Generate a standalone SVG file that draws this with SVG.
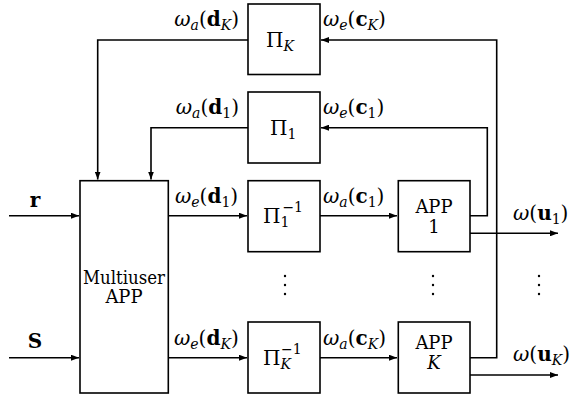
<svg xmlns="http://www.w3.org/2000/svg" width="574" height="399" viewBox="0 0 574 399">
<style>
.box{fill:#fff;stroke:#000;stroke-width:1.6}
.ar{fill:none;stroke:#000;stroke-width:1.6;marker-end:url(#ah)}
text{font-family:"DejaVu Serif",serif}
.i{font-style:italic}
.b{font-weight:bold}
.s{font-size:14px}
.c{text-anchor:middle}
.e{text-anchor:end}
.lb{font-size:20px}
.dot{fill:#000}
</style>
<defs>
<marker id="ah" viewBox="0 0 8 6" refX="8" refY="3" markerWidth="8" markerHeight="6" markerUnits="userSpaceOnUse" orient="auto">
<path d="M0,0 L8,3 L0,6 Z" fill="#000"/>
</marker>
</defs>
<rect width="574" height="399" fill="#fff"/>
<g id="connectors">
<path class="ar" d="M9,215.7 H79"/>
<path class="ar" d="M9,357.7 H79"/>
<path class="ar" d="M168,215.7 H247"/>
<path class="ar" d="M168,357.7 H247"/>
<path class="ar" d="M320,215.7 H397"/>
<path class="ar" d="M320,357.7 H397"/>
<path class="ar" d="M248,40 H97.7 V179.5"/>
<path class="ar" d="M248,127.7 H151 V179.5"/>
<path class="ar" d="M470,215.7 H487.3 V127.7 H321"/>
<path class="ar" d="M470,357.7 H496.7 V40 H321"/>
<path class="ar" d="M470,233.3 H558"/>
<path class="ar" d="M470,375 H558"/>
</g>
<g font-size="18" fill="#000">
<g id="multiuser">
<rect class="box" x="80" y="180.7" width="88.3" height="212.3"/>
<text class="c" x="124" y="284" textLength="82" lengthAdjust="spacingAndGlyphs">Multiuser</text>
<text class="c" x="124" y="303">APP</text>
</g>
<g id="piK">
<rect class="box" x="248" y="4" width="72" height="70.5"/>
<text x="266" y="47" font-size="20">Π<tspan class="i s" dy="4">K</tspan></text>
</g>
<g id="pi1">
<rect class="box" x="248" y="92" width="72" height="71"/>
<text x="270" y="135" font-size="20">Π<tspan class="s" dy="4">1</tspan></text>
</g>
<g id="pi1inv">
<rect class="box" x="248" y="180.7" width="72" height="71"/>
<text x="263" y="223" font-size="20">Π<tspan class="s" dy="4">1</tspan><tspan class="s" dx="-7" dy="-15">−1</tspan></text>
</g>
<g id="piKinv">
<rect class="box" x="248" y="322" width="72" height="71"/>
<text x="263" y="365" font-size="20">Π<tspan class="i s" dy="4">K</tspan><tspan class="s" dx="-10" dy="-15">−1</tspan></text>
</g>
<g id="app1">
<rect class="box" x="398.3" y="180.7" width="71.7" height="71"/>
<text class="c" x="434" y="213">APP</text>
<text class="c" x="434" y="233">1</text>
</g>
<g id="appK">
<rect class="box" x="398.3" y="322" width="71.7" height="71"/>
<text class="c" x="434" y="349">APP</text>
<text class="c i" x="434" y="369">K</text>
</g>
<g id="labels">
<text x="35" y="207" class="c b lb">r</text>
<text x="35" y="348" class="c b lb">S</text>
<text class="e lb" x="239" y="26"><tspan class="i">ω</tspan><tspan class="i s" dy="4">a</tspan><tspan dy="-4">(</tspan><tspan class="b">d</tspan><tspan class="i s" dy="4">K</tspan><tspan dy="-4">)</tspan></text>
<text class="e lb" x="239" y="114"><tspan class="i">ω</tspan><tspan class="i s" dy="4">a</tspan><tspan dy="-4">(</tspan><tspan class="b">d</tspan><tspan class="s" dy="4">1</tspan><tspan dy="-4">)</tspan></text>
<text class="lb" x="323" y="26"><tspan class="i">ω</tspan><tspan class="i s" dy="4">e</tspan><tspan dy="-4">(</tspan><tspan class="b">c</tspan><tspan class="i s" dy="4">K</tspan><tspan dy="-4">)</tspan></text>
<text class="lb" x="323" y="114"><tspan class="i">ω</tspan><tspan class="i s" dy="4">e</tspan><tspan dy="-4">(</tspan><tspan class="b">c</tspan><tspan class="s" dy="4">1</tspan><tspan dy="-4">)</tspan></text>
<text class="lb" x="175" y="203"><tspan class="i">ω</tspan><tspan class="i s" dy="4">e</tspan><tspan dy="-4">(</tspan><tspan class="b">d</tspan><tspan class="s" dy="4">1</tspan><tspan dy="-4">)</tspan></text>
<text class="lb" x="174" y="345"><tspan class="i">ω</tspan><tspan class="i s" dy="4">e</tspan><tspan dy="-4">(</tspan><tspan class="b">d</tspan><tspan class="i s" dy="4">K</tspan><tspan dy="-4">)</tspan></text>
<text class="lb" x="323" y="203"><tspan class="i">ω</tspan><tspan class="i s" dy="4">a</tspan><tspan dy="-4">(</tspan><tspan class="b">c</tspan><tspan class="s" dy="4">1</tspan><tspan dy="-4">)</tspan></text>
<text class="lb" x="323" y="345"><tspan class="i">ω</tspan><tspan class="i s" dy="4">a</tspan><tspan dy="-4">(</tspan><tspan class="b">c</tspan><tspan class="i s" dy="4">K</tspan><tspan dy="-4">)</tspan></text>
<text class="lb" x="513" y="220"><tspan class="i">ω</tspan>(<tspan class="b">u</tspan><tspan class="s" dy="4">1</tspan><tspan dy="-4">)</tspan></text>
<text class="lb" x="513" y="361"><tspan class="i">ω</tspan>(<tspan class="b">u</tspan><tspan class="i s" dy="4">K</tspan><tspan dy="-4">)</tspan></text>
</g>
</g>
<g id="dots">
<circle class="dot" cx="285" cy="276" r="1.2"/><circle class="dot" cx="285" cy="285" r="1.2"/><circle class="dot" cx="285" cy="294" r="1.2"/>
<circle class="dot" cx="433" cy="276" r="1.2"/><circle class="dot" cx="433" cy="285" r="1.2"/><circle class="dot" cx="433" cy="294" r="1.2"/>
<circle class="dot" cx="539" cy="276" r="1.2"/><circle class="dot" cx="539" cy="285" r="1.2"/><circle class="dot" cx="539" cy="294" r="1.2"/>
</g>
</svg>
